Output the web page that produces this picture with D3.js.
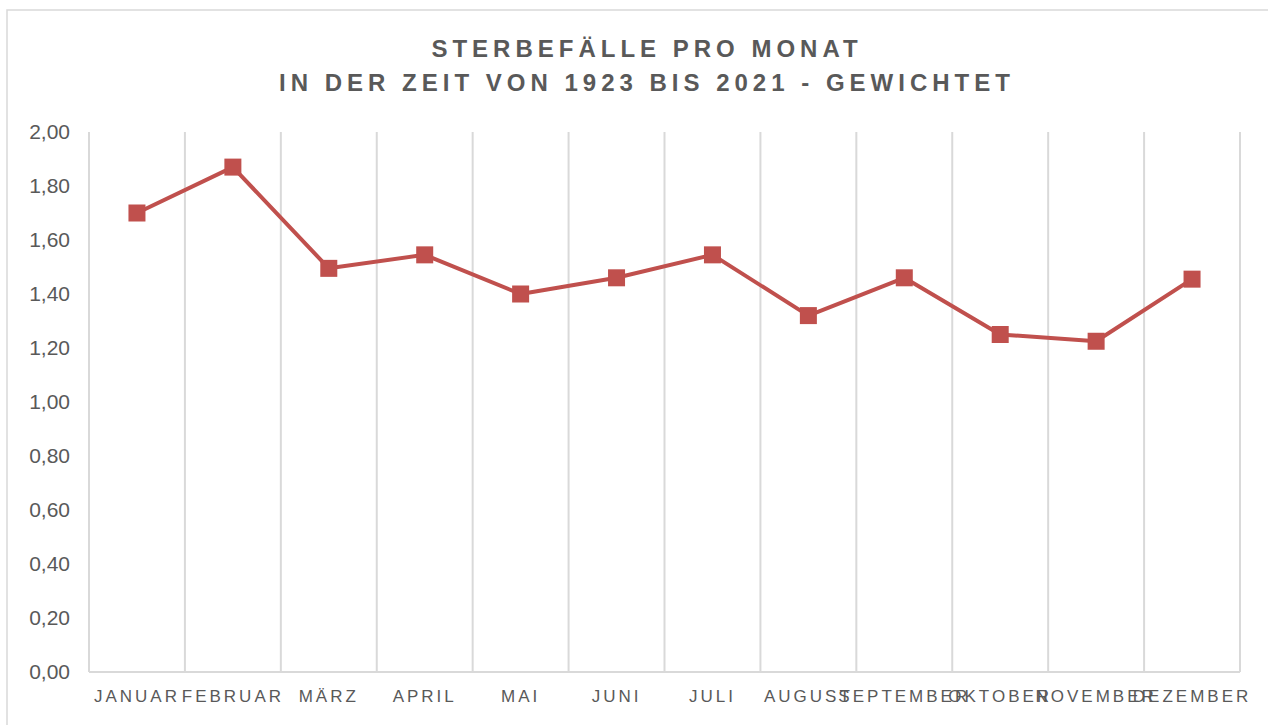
<!DOCTYPE html>
<html>
<head>
<meta charset="utf-8">
<script src="https://cdn.jsdelivr.net/npm/d3@7"></script>
<style>
  body { margin: 0; background: #fff; }
  svg text { font-family: "Liberation Sans", Arial, sans-serif; }
</style>
</head>
<body>
<div id="chart"></div>
<script>
var months = ['JANUAR', 'FEBRUAR', 'MÄRZ', 'APRIL', 'MAI', 'JUNI', 'JULI',
  'AUGUST', 'SEPTEMBER', 'OKTOBER', 'NOVEMBER', 'DEZEMBER']
var deaths = [1.70, 1.87, 1.495, 1.545, 1.40, 1.46, 1.545, 1.32, 1.46, 1.25, 1.225, 1.455]
var yTicks = [0, 0.2, 0.4, 0.6, 0.8, 1.0, 1.2, 1.4, 1.6, 1.8, 2.0]
var titleLines = ['STERBEFÄLLE PRO MONAT', 'IN DER ZEIT VON 1923 BIS 2021 - GEWICHTET']

var width = 1268
var height = 725
var margin = { top: 132, bottom: 53, left: 89, right: 28 }
var red = '#c0504d'
var grid = '#d9d9d9'
var textGrey = '#595959'

var svg = d3.select('#chart')
  .append('svg')
  .attr('width', width)
  .attr('height', height)

// chart frame
svg.append('rect')
  .attr('x', 7).attr('y', 10)
  .attr('width', width + 10).attr('height', height + 10)
  .attr('fill', '#fff')
  .attr('stroke', grid)
  .attr('stroke-width', 1.5)

var x = d3.scaleBand()
  .domain(months)
  .range([margin.left, width - margin.right])

var y = d3.scaleLinear()
  .domain([0, 2])
  .range([height - margin.bottom, margin.top])

// vertical gridlines at category borders
var borders = months.map(d => x(d)).concat([x.range()[1]])
svg.append('g')
  .selectAll('line')
  .data(borders)
  .enter()
  .append('line')
  .attr('x1', d => d).attr('x2', d => d)
  .attr('y1', y(2)).attr('y2', y(0))
  .attr('stroke', grid)
  .attr('stroke-width', 2)

// baseline
svg.append('line')
  .attr('x1', x.range()[0]).attr('x2', x.range()[1])
  .attr('y1', y(0)).attr('y2', y(0))
  .attr('stroke', grid)
  .attr('stroke-width', 2)

// y axis labels
var yAxis = svg.append('g')
  .attr('transform', 'translate(' + (margin.left - 16) + ',0)')
  .call(d3.axisLeft(y).tickValues(yTicks).tickSize(0)
    .tickFormat(d => d3.format('.2f')(d).replace('.', ',')))
yAxis.select('.domain').remove()
yAxis.selectAll('text')
  .attr('font-size', 21)
  .attr('fill', textGrey)
  .style('font-family', '"Liberation Sans", Arial, sans-serif')

// x axis labels
var xAxis = svg.append('g')
  .attr('transform', 'translate(0,' + y(0) + ')')
  .call(d3.axisBottom(x).tickSize(0).tickPadding(18))
xAxis.select('.domain').remove()
xAxis.selectAll('text')
  .attr('font-size', 17)
  .attr('fill', textGrey)
  .attr('letter-spacing', 3)
  .style('font-family', '"Liberation Sans", Arial, sans-serif')

// line
var line = d3.line()
  .x((d, i) => x(months[i]) + x.bandwidth() / 2)
  .y(d => y(d))

svg.append('path')
  .datum(deaths)
  .attr('d', line)
  .attr('fill', 'none')
  .attr('stroke', red)
  .attr('stroke-width', 4)
  .attr('stroke-linejoin', 'round')

svg.selectAll('.marker')
  .data(deaths)
  .enter()
  .append('rect')
  .attr('class', 'marker')
  .attr('x', (d, i) => x(months[i]) + x.bandwidth() / 2 - 8.5)
  .attr('y', d => y(d) - 8.5)
  .attr('width', 17)
  .attr('height', 17)
  .attr('fill', red)

// title
svg.selectAll('.title')
  .data(titleLines)
  .enter()
  .append('text')
  .attr('class', 'title')
  .attr('x', 647)
  .attr('y', (d, i) => 57 + i * 34)
  .attr('text-anchor', 'middle')
  .attr('font-size', 24)
  .attr('font-weight', 'bold')
  .attr('letter-spacing', 5)
  .attr('fill', textGrey)
  .style('font-family', '"Liberation Sans", Arial, sans-serif')
  .text(d => d)
</script>
</body>
</html>
